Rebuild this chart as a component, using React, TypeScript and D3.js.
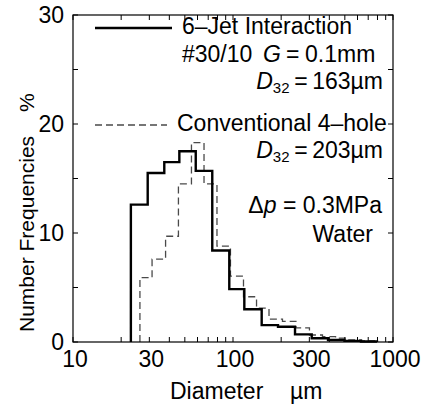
import React from "react";
import * as d3 from "d3";

const solidEdges = [23.0, 29.3, 37.2, 46.2, 58.5, 74.2, 94.8, 117.7, 151.1, 191.1, 244.1, 310.4, 392.5, 497.5, 631, 794];
const solidValues = [12.6, 15.5, 16.5, 17.5, 15.7, 8.4, 4.85, 3.0, 1.55, 1.4, 0.7, 0.35, 0.18, 0.1, 0.05];

const dashedEdges = [26.2, 31.2, 37.9, 45.6, 55.0, 65.9, 79.4, 96.4, 116.3, 140.3, 167.9, 203.8, 247.3, 300.5, 362.4, 437.5, 527.5, 635.7, 765.8];
const dashedValues = [5.9, 7.6, 9.7, 14.5, 18.3, 14.5, 8.8, 6.05, 4.15, 3.1, 2.1, 1.9, 1.3, 0.64, 0.5, 0.35, 0.2, 0.1];

const xTickLabels = [10, 30, 100, 300, 1000];
const yTickLabels = [0, 10, 20, 30];
const yMinorTicks = [0, 5, 10, 15, 20, 25, 30];
const xMinorTicks = [10, 20, 30, 40, 50, 60, 70, 80, 90, 100, 200, 300, 400, 500, 600, 700, 800, 900, 1000];

const FONT = "'Liberation Sans', Arial, Helvetica, sans-serif";

function stepPath(edges: number[], values: number[], x: any, y: any) {
  const pts: [number, number][] = [];
  pts.push([x(edges[0]), y(0)]);
  values.forEach((v, i) => {
    pts.push([x(edges[i]), y(v)]);
    pts.push([x(edges[i + 1]), y(v)]);
  });
  pts.push([x(edges[edges.length - 1]), y(0)]);
  return d3.line()(pts) as string;
}

export default function App() {
  const W = 426, H = 406;
  const left = 73, right = 393, top = 15, bottom = 342;
  const x = d3.scaleLog().domain([10, 1000]).range([left, right]);
  const y = d3.scaleLinear().domain([0, 30]).range([bottom, top]);
  const tl = 5;
  const fs = 23;

  return (
    <svg width={W} height={H} style={{ position: "absolute", left: 0, top: 0, background: "#fff" }} fontFamily={FONT}>
      <rect x={0} y={0} width={W} height={H} fill="#fff" />
      {/* histograms */}
      <path d={stepPath(dashedEdges, dashedValues, x, y)} fill="none" stroke="#4a4a4a" strokeWidth={1.3} strokeDasharray="7,4" />
      <path d={stepPath(solidEdges, solidValues, x, y)} fill="none" stroke="#000" strokeWidth={2.4} />
      {/* frame */}
      <rect x={left} y={top} width={right - left} height={bottom - top} fill="none" stroke="#000" strokeWidth={1.2} />
      {/* ticks */}
      {xMinorTicks.map((t) => (
        <g key={"xt" + t}>
          <line x1={x(t)} x2={x(t)} y1={bottom} y2={bottom - tl} stroke="#000" strokeWidth={1} />
          <line x1={x(t)} x2={x(t)} y1={top} y2={top + tl} stroke="#000" strokeWidth={1} />
        </g>
      ))}
      {yMinorTicks.map((t) => (
        <g key={"yt" + t}>
          <line x1={left} x2={left + tl} y1={y(t)} y2={y(t)} stroke="#000" strokeWidth={1} />
          <line x1={right} x2={right - tl} y1={y(t)} y2={y(t)} stroke="#000" strokeWidth={1} />
        </g>
      ))}
      {/* tick labels */}
      {xTickLabels.map((t) => (
        <text key={"xl" + t} x={x(t) + 2} y={367} textAnchor="middle" fontSize={fs} fill="#000">{t}</text>
      ))}
      {yTickLabels.map((t) => (
        <text key={"yl" + t} x={64} y={y(t) + 8} textAnchor="end" fontSize={fs} fill="#000">{t}</text>
      ))}
      {/* axis labels */}
      <text x={170} y={399} fontSize={fs} fill="#000">Diameter</text>
      <text x={290} y={399} fontSize={fs} fill="#000">µm</text>
      <text transform={`translate(34,332) rotate(-90)`} fontSize={21} fill="#000">Number Frequencies</text>
      <text transform={`translate(34,112) rotate(-90)`} fontSize={21} fill="#000">%</text>
      {/* legend */}
      <line x1={95} x2={172} y1={28} y2={28} stroke="#000" strokeWidth={2.4} />
      <text x={182} y={34} fontSize={fs} fill="#000">6–Jet Interaction</text>
      <text x={182} y={62} fontSize={fs} fill="#000">#30/10<tspan x={263} fontStyle="italic">G</tspan><tspan x={286}>=</tspan><tspan x={305}>0.1mm</tspan></text>
      <text x={383} y={89} textAnchor="end" fontSize={fs} fill="#000"><tspan fontStyle="italic">D</tspan><tspan fontSize={15} dy={4}>32</tspan><tspan dy={-4}>{"\u2009"}={"\u2009"}163µm</tspan></text>
      <line x1={95} x2={167} y1={125} y2={125} stroke="#4a4a4a" strokeWidth={1.3} strokeDasharray="7,4" />
      <text x={177} y={131} fontSize={fs} fill="#000">Conventional 4–hole</text>
      <text x={383} y={158} textAnchor="end" fontSize={fs} fill="#000"><tspan fontStyle="italic">D</tspan><tspan fontSize={15} dy={4}>32</tspan><tspan dy={-4}>{"\u2009"}={"\u2009"}203µm</tspan></text>
      <text x={382} y={213} textAnchor="end" fontSize={fs} fill="#000">Δ<tspan fontStyle="italic">p</tspan> = 0.3MPa</text>
      <text x={373} y={242} textAnchor="end" fontSize={fs} fill="#000">Water</text>
    </svg>
  );
}
